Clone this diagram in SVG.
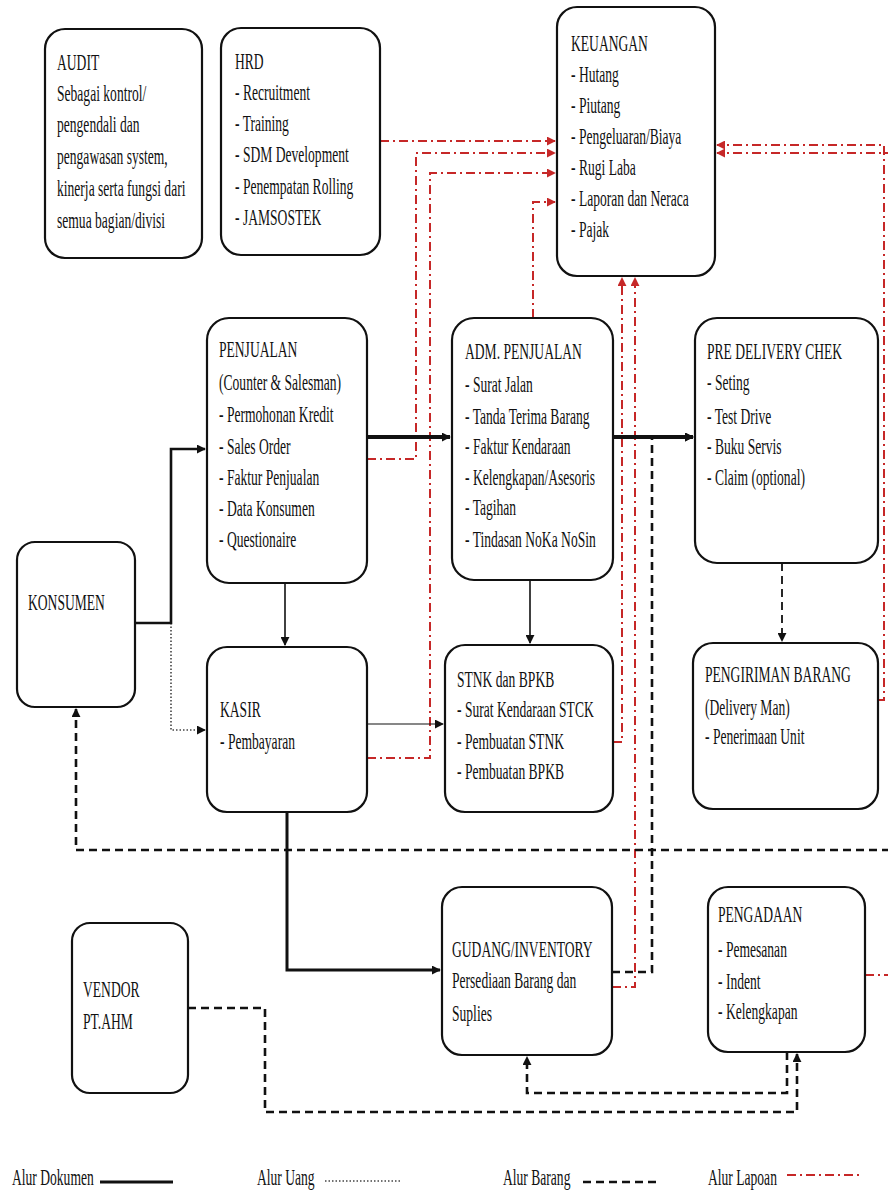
<svg xmlns="http://www.w3.org/2000/svg" width="888" height="1193" viewBox="0 0 888 1193">
<style>
.box{fill:#fff;stroke:#111;stroke-width:2.2}
.t{font-family:"Liberation Serif","Times New Roman",serif;font-size:23px;fill:#111}
.doc{fill:none;stroke:#111}
.uang{fill:none;stroke:#444;stroke-width:1.6;stroke-dasharray:1.5,2}
.brg{fill:none;stroke:#111;stroke-width:2.6;stroke-dasharray:8,5}
.lap{fill:none;stroke:#c62828;stroke-width:2;stroke-dasharray:9,4,2,4}
</style>
<defs>
<marker id="ab" viewBox="0 0 10 10" refX="9" refY="5" markerWidth="9" markerHeight="9" markerUnits="userSpaceOnUse" orient="auto"><path d="M0,0 L10,5 L0,10z" fill="#111"/></marker>
<marker id="ar" viewBox="0 0 10 10" refX="9" refY="5" markerWidth="9" markerHeight="9" markerUnits="userSpaceOnUse" orient="auto"><path d="M0,0 L10,5 L0,10z" fill="#c62828"/></marker>
</defs>
<rect width="888" height="1193" fill="#fff"/>

<g id="connectors">
<!-- Alur Laporan (red dash-dot) -->
<path class="lap" d="M380,141 H555" marker-end="url(#ar)"/>
<path class="lap" d="M367,459 H416 V153 H555" marker-end="url(#ar)"/>
<path class="lap" d="M367,758 H430 V173 H555" marker-end="url(#ar)"/>
<path class="lap" d="M533,318 V202 H555" marker-end="url(#ar)"/>
<path class="lap" d="M613,742 H622 V278" marker-end="url(#ar)"/>
<path class="lap" d="M612,987 H635 V278" marker-end="url(#ar)"/>
<path class="lap" d="M878,700 H884 V145 H717" marker-end="url(#ar)"/>
<path class="lap" d="M865,975 H896 V153 H717" marker-end="url(#ar)"/>
<!-- Alur Barang (dashed) -->
<path class="brg" d="M890,850 H76 V709" marker-end="url(#ab)"/>
<path class="brg" d="M612,972 H652 V437 H693" marker-end="url(#ab)"/>
<path class="brg" style="stroke-width:1.8" d="M782,563 V641" marker-end="url(#ab)"/>
<path class="brg" d="M188,1008 H265 V1112 H797 V1054" marker-end="url(#ab)"/>
<path class="brg" d="M787,1052 V1093 H527 V1057" marker-end="url(#ab)"/>
<!-- Alur Uang (dotted) -->
<path class="uang" d="M171,623 V730 H205" marker-end="url(#ab)"/>
<!-- Alur Dokumen (solid) -->
<path class="doc" style="stroke-width:2.6" d="M135,623 H171 V449 H205" marker-end="url(#ab)"/>
<path class="doc" style="stroke-width:4" d="M367,437 H450" marker-end="url(#ab)"/>
<path class="doc" style="stroke-width:4" d="M613,437 H693" marker-end="url(#ab)"/>
<path class="doc" style="stroke-width:1.6" d="M285,583 V645" marker-end="url(#ab)"/>
<path class="doc" style="stroke-width:1.6" d="M530,580 V643" marker-end="url(#ab)"/>
<path class="doc" style="stroke-width:1.2" d="M367,724 H443" marker-end="url(#ab)"/>
<path class="doc" style="stroke-width:3" d="M287,812 V970 H440" marker-end="url(#ab)"/>
</g>

<g id="audit"><rect class="box" x="45" y="29" width="157" height="229" rx="20"/>
<text class="t" transform="translate(57,0) scale(0.59,1)"><tspan x="0" y="70">AUDIT</tspan><tspan x="0" y="101">Sebagai kontrol/</tspan><tspan x="0" y="132">pengendali dan</tspan><tspan x="0" y="164">pengawasan system,</tspan><tspan x="0" y="196">kinerja serta fungsi dari</tspan><tspan x="0" y="228">semua bagian/divisi</tspan></text></g>

<g id="hrd"><rect class="box" x="221" y="28" width="159" height="227" rx="20"/>
<text class="t" transform="translate(235,0) scale(0.59,1)"><tspan x="0" y="69">HRD</tspan><tspan x="0" y="100">- Recruitment</tspan><tspan x="0" y="131">- Training</tspan><tspan x="0" y="162">- SDM Development</tspan><tspan x="0" y="194">- Penempatan Rolling</tspan><tspan x="0" y="225">- JAMSOSTEK</tspan></text></g>

<g id="keuangan"><rect class="box" x="557" y="7" width="158" height="269" rx="20"/>
<text class="t" transform="translate(571,0) scale(0.59,1)"><tspan x="0" y="51">KEUANGAN</tspan><tspan x="0" y="82">- Hutang</tspan><tspan x="0" y="113">- Piutang</tspan><tspan x="0" y="144">- Pengeluaran/Biaya</tspan><tspan x="0" y="175">- Rugi Laba</tspan><tspan x="0" y="206">- Laporan dan Neraca</tspan><tspan x="0" y="237">- Pajak</tspan></text></g>

<g id="penjualan"><rect class="box" x="207" y="318" width="160" height="265" rx="22"/>
<text class="t" transform="translate(219,0) scale(0.59,1)"><tspan x="0" y="357">PENJUALAN</tspan><tspan x="0" y="390">(Counter &amp; Salesman)</tspan><tspan x="0" y="422">- Permohonan Kredit</tspan><tspan x="0" y="454">- Sales Order</tspan><tspan x="0" y="485">- Faktur Penjualan</tspan><tspan x="0" y="516">- Data Konsumen</tspan><tspan x="0" y="547">- Questionaire</tspan></text></g>

<g id="adm-penjualan"><rect class="box" x="452" y="318" width="161" height="262" rx="22"/>
<text class="t" transform="translate(465,0) scale(0.59,1)"><tspan x="0" y="359">ADM. PENJUALAN</tspan><tspan x="0" y="392">- Surat Jalan</tspan><tspan x="0" y="424">- Tanda Terima Barang</tspan><tspan x="0" y="454">- Faktur Kendaraan</tspan><tspan x="0" y="485">- Kelengkapan/Asesoris</tspan><tspan x="0" y="515">- Tagihan</tspan><tspan x="0" y="547">- Tindasan NoKa NoSin</tspan></text></g>

<g id="pre-delivery"><rect class="box" x="695" y="318" width="183" height="245" rx="22"/>
<text class="t" transform="translate(707,0) scale(0.59,1)"><tspan x="0" y="359">PRE DELIVERY CHEK</tspan><tspan x="0" y="390">- Seting</tspan><tspan x="0" y="424">- Test Drive</tspan><tspan x="0" y="454">- Buku Servis</tspan><tspan x="0" y="485">- Claim (optional)</tspan></text></g>

<g id="konsumen"><rect class="box" x="17" y="542" width="118" height="165" rx="18"/>
<text class="t" transform="translate(28,0) scale(0.59,1)"><tspan x="0" y="610">KONSUMEN</tspan></text></g>

<g id="kasir"><rect class="box" x="207" y="647" width="160" height="165" rx="20"/>
<text class="t" transform="translate(220,0) scale(0.59,1)"><tspan x="0" y="717">KASIR</tspan><tspan x="0" y="749">- Pembayaran</tspan></text></g>

<g id="stnk-bpkb"><rect class="box" x="445" y="645" width="168" height="167" rx="20"/>
<text class="t" transform="translate(457,0) scale(0.59,1)"><tspan x="0" y="687">STNK dan BPKB</tspan><tspan x="0" y="717">- Surat Kendaraan STCK</tspan><tspan x="0" y="749">- Pembuatan STNK</tspan><tspan x="0" y="779">- Pembuatan BPKB</tspan></text></g>

<g id="pengiriman"><rect class="box" x="693" y="643" width="185" height="166" rx="20"/>
<text class="t" transform="translate(705,0) scale(0.59,1)"><tspan x="0" y="682">PENGIRIMAN BARANG</tspan><tspan x="0" y="715">(Delivery Man)</tspan><tspan x="0" y="744">- Penerimaan Unit</tspan></text></g>

<g id="gudang"><rect class="box" x="442" y="887" width="170" height="168" rx="20"/>
<text class="t" transform="translate(452,0) scale(0.59,1)"><tspan x="0" y="957">GUDANG/INVENTORY</tspan><tspan x="0" y="988">Persediaan Barang dan</tspan><tspan x="0" y="1021">Suplies</tspan></text></g>

<g id="pengadaan"><rect class="box" x="708" y="887" width="157" height="165" rx="20"/>
<text class="t" transform="translate(718,0) scale(0.59,1)"><tspan x="0" y="922">PENGADAAN</tspan><tspan x="0" y="957">- Pemesanan</tspan><tspan x="0" y="989">- Indent</tspan><tspan x="0" y="1019">- Kelengkapan</tspan></text></g>

<g id="vendor"><rect class="box" x="72" y="923" width="116" height="170" rx="18"/>
<text class="t" transform="translate(83,0) scale(0.59,1)"><tspan x="0" y="997">VENDOR</tspan><tspan x="0" y="1029">PT.AHM</tspan></text></g>

<g id="legend">
<text class="t" transform="translate(12,0) scale(0.59,1)"><tspan x="0" y="1185">Alur Dokumen</tspan></text>
<line x1="100" y1="1182" x2="173" y2="1182" stroke="#111" stroke-width="3"/>
<text class="t" transform="translate(257,0) scale(0.59,1)"><tspan x="0" y="1185">Alur Uang</tspan></text>
<line class="uang" x1="325" y1="1181" x2="402" y2="1181"/>
<text class="t" transform="translate(503,0) scale(0.59,1)"><tspan x="0" y="1185">Alur Barang</tspan></text>
<line class="brg" x1="583" y1="1182" x2="660" y2="1182"/>
<text class="t" transform="translate(708,0) scale(0.59,1)"><tspan x="0" y="1185">Alur Lapoan</tspan></text>
<line class="lap" x1="787" y1="1175" x2="862" y2="1175"/>
</g>
</svg>
